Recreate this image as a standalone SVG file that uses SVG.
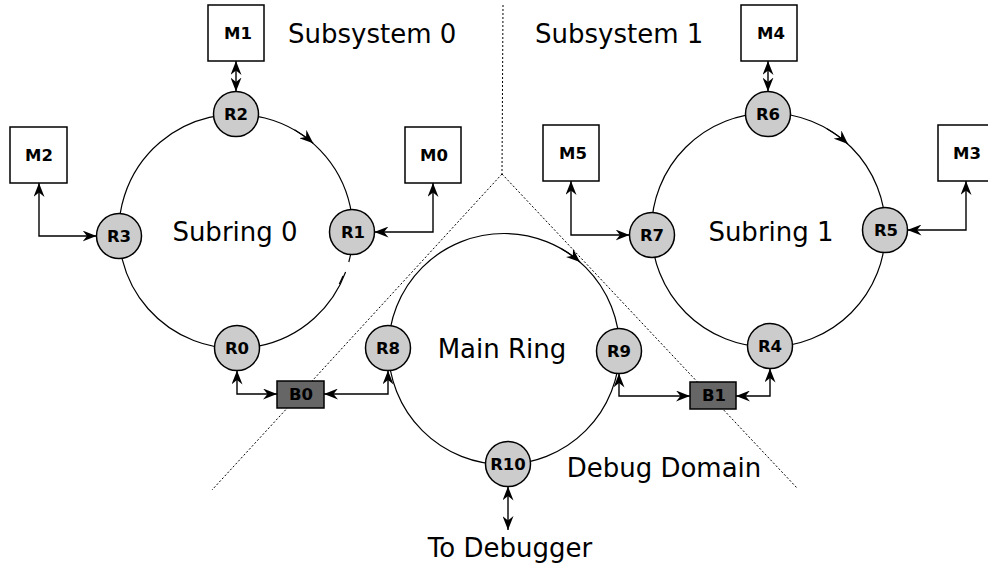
<svg xmlns="http://www.w3.org/2000/svg" width="988" height="565" viewBox="0 0 988 565">
  <style>
    .ring { fill: none; stroke: #000; stroke-width: 1.2; }
    .domain { fill: none; stroke: #000; stroke-width: 1; stroke-dasharray: 2 2; }
    .link { fill: none; stroke: #000; stroke-width: 1.4; marker-start: url(#head); marker-end: url(#head); }
    .flow { fill: none; stroke: #000; stroke-width: 1.2; marker-end: url(#head); }
    .router circle { fill: #cccccc; stroke: #000; stroke-width: 1.5; }
    .module rect { fill: #fff; stroke: #000; stroke-width: 1.5; }
    .bridge rect { fill: #666666; stroke: #000; stroke-width: 1.5; }
    .lbl { font-family: "DejaVu Sans", "Liberation Sans", sans-serif; font-weight: bold; font-size: 16.5px; text-anchor: middle; dominant-baseline: central; fill: #000; }
    .big { font-family: "DejaVu Sans", "Liberation Sans", sans-serif; font-size: 26px; fill: #000; }
  </style>
  <defs>
    <marker id="head" viewBox="0 0 14 11" markerWidth="14" markerHeight="11" refX="14" refY="5.5" orient="auto-start-reverse" markerUnits="userSpaceOnUse">
      <path d="M0,0 L14,5.5 L0,11 L4.5,5.5 Z" fill="#000"/>
    </marker>
  </defs>

  <!-- domain boundaries -->
  <g id="boundaries">
    <path class="domain" d="M503,5 L502,174"/>
    <path class="domain" d="M502,174 L212,490"/>
    <path class="domain" d="M502,174 L797,488"/>
  </g>

  <!-- rings (subring 0 has a small break between R1 and R0) -->
  <g id="rings">
    <path class="ring" d="M345.6,272 A117,117 0 1 1 348.8,262"/>
    <path class="ring" d="M343,276 A117,117 0 0 1 339.3,284"/>
    <circle class="ring" cx="768.5" cy="230" r="117"/>
    <circle class="ring" cx="504" cy="349" r="115.5"/>
    <!-- direction marks on each ring -->
    <path class="flow" d="M294.5,129.7 A117,117 0 0 1 313.2,143.2"/>
    <path class="flow" d="M827,128.7 A117,117 0 0 1 848,144"/>
    <path class="flow" d="M561.8,249 A115.5,115.5 0 0 1 580,262"/>
  </g>

  <!-- connectors -->
  <g id="connectors">
    <path class="link" d="M236,61 L236,91.5"/>
    <path class="link" d="M768,61 L768,91.5"/>
    <path class="link" d="M39,183 L39,236 L96.5,236"/>
    <path class="link" d="M433,183 L433,232 L374.5,232"/>
    <path class="link" d="M571,181 L571,235 L629.5,235"/>
    <path class="link" d="M966,181 L966,230 L907.5,230"/>
    <path class="link" d="M237,370.5 L237,394 L277,394"/>
    <path class="link" d="M388,370.5 L388,394 L324,394"/>
    <path class="link" d="M619,373.5 L619,396 L690,396"/>
    <path class="link" d="M770,368.5 L770,396 L736,396"/>
    <path class="link" d="M508,486.5 L508,530"/>
  </g>

  <!-- memory modules -->
  <g id="M1" class="module"><rect x="208" y="5" width="56" height="56"/><text class="lbl" x="238" y="33">M1</text></g>
  <g id="M4" class="module"><rect x="741" y="5" width="56" height="56"/><text class="lbl" x="771" y="33">M4</text></g>
  <g id="M2" class="module"><rect x="10" y="127" width="57" height="56"/><text class="lbl" x="39" y="155">M2</text></g>
  <g id="M0" class="module"><rect x="405" y="127" width="56" height="56"/><text class="lbl" x="434" y="155">M0</text></g>
  <g id="M5" class="module"><rect x="543" y="125" width="56" height="56"/><text class="lbl" x="573" y="153">M5</text></g>
  <g id="M3" class="module"><rect x="938" y="125" width="56" height="56"/><text class="lbl" x="967" y="153">M3</text></g>

  <!-- routers -->
  <g id="R0" class="router"><circle cx="237" cy="348" r="22.5"/><text class="lbl" x="237" y="348">R0</text></g>
  <g id="R1" class="router"><circle cx="352" cy="232" r="22.5"/><text class="lbl" x="353" y="232">R1</text></g>
  <g id="R2" class="router"><circle cx="236" cy="114" r="22.5"/><text class="lbl" x="236" y="114">R2</text></g>
  <g id="R3" class="router"><circle cx="119" cy="236" r="22.5"/><text class="lbl" x="119" y="236">R3</text></g>
  <g id="R4" class="router"><circle cx="770" cy="346" r="22.5"/><text class="lbl" x="770" y="346">R4</text></g>
  <g id="R5" class="router"><circle cx="885" cy="230" r="22.5"/><text class="lbl" x="886" y="230">R5</text></g>
  <g id="R6" class="router"><circle cx="768" cy="114" r="22.5"/><text class="lbl" x="768" y="114">R6</text></g>
  <g id="R7" class="router"><circle cx="652" cy="235" r="22.5"/><text class="lbl" x="652" y="235">R7</text></g>
  <g id="R8" class="router"><circle cx="388" cy="348" r="22.5"/><text class="lbl" x="388" y="348">R8</text></g>
  <g id="R9" class="router"><circle cx="619" cy="351" r="22.5"/><text class="lbl" x="619" y="351">R9</text></g>
  <g id="R10" class="router"><circle cx="508" cy="464" r="22.5"/><text class="lbl" x="508" y="464">R10</text></g>

  <!-- bridges -->
  <g id="B0" class="bridge"><rect x="277" y="381" width="47" height="27"/><text class="lbl" x="301" y="394.5">B0</text></g>
  <g id="B1" class="bridge"><rect x="690" y="382" width="46" height="27"/><text class="lbl" x="714" y="395.5">B1</text></g>

  <!-- area labels -->
  <g id="labels">
    <text class="big" x="288" y="43">Subsystem 0</text>
    <text class="big" x="535" y="43">Subsystem 1</text>
    <text class="big" x="235" y="241" text-anchor="middle">Subring 0</text>
    <text class="big" x="771" y="241" text-anchor="middle">Subring 1</text>
    <text class="big" x="502" y="358" text-anchor="middle">Main Ring</text>
    <text class="big" x="664" y="477" text-anchor="middle">Debug Domain</text>
    <text class="big" x="510" y="557" text-anchor="middle">To Debugger</text>
  </g>
</svg>
